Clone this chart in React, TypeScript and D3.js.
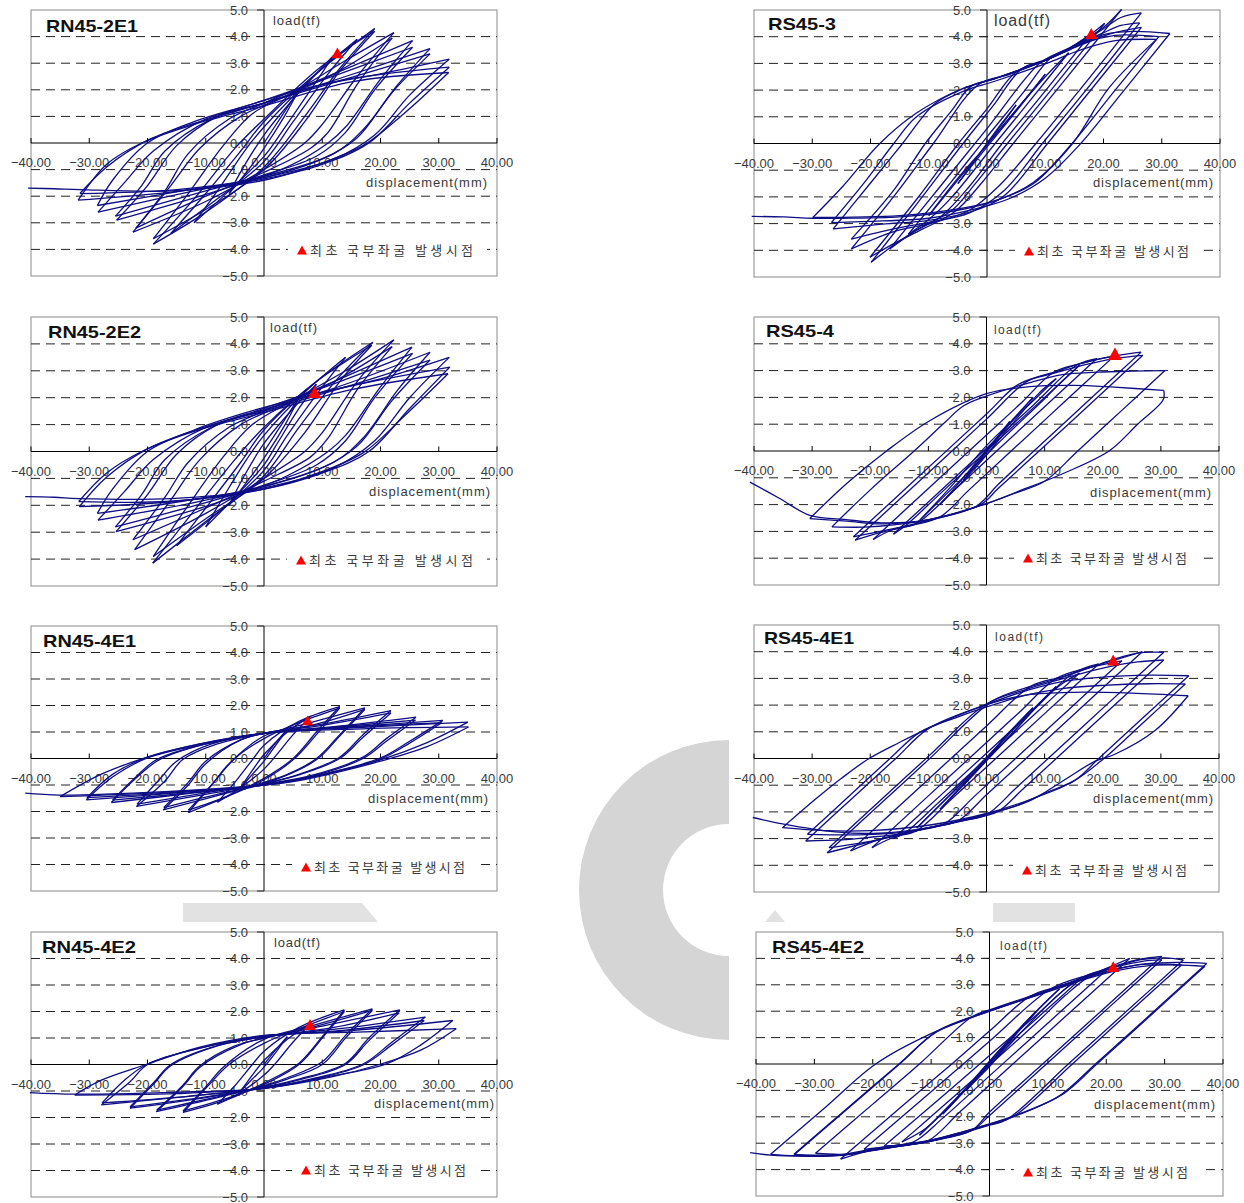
import React from 'react';
import * as d3 from 'd3';

// ---------------- data: displacement (mm), load (tf) ----------------
const specimenNames = ['RN45-2E1', 'RS45-3', 'RN45-2E2', 'RS45-4', 'RN45-4E1', 'RS45-4E1', 'RN45-4E2', 'RS45-4E2'];

const rn45_2e1 = [
  0,0, 3,1.0, 6,2.0,
  3.5,1.0, 0,-0.2, -3,-1.1, -6,-1.9,
  -3.5,-0.9, 0,0.3, 6,1.9, 12,3.3,
  8,2.0, 3,0.4, 0,-0.5, -6,-1.8, -12,-3.0,
  -8,-1.8, -3,-0.2, 0,0.6, 8,2.4, 16,3.9,
  11,2.6, 5,0.8, 0,-0.7, -8,-2.1, -16,-3.4,
  -10,-1.9, -4,-0.3, 0,0.8, 10,2.8, 19,4.3,
  13,2.8, 7,1.0, 0,-0.9, -10,-2.6, -19,-3.8,
  -12,-2.1, -5,-0.2, 0,0.9, 10,2.9, 19,4.2,
  13,2.7, 7,0.8, 0,-1.0, -10,-2.5, -19,-3.6,
  -13,-1.9, -7,-0.1, -2,1.1, 5,1.9, 14,3.1, 22.3,4.15,
  16,2.5, 10,0.7, 7,0, 0,-1.0, -10,-2.2, -22.5,-3.35,
  -16,-1.6, -11,-0.2, -4,1.0, 3,1.7, 12,2.6, 22,3.95,
  16,2.2, 11,0.4, 8,-0.2, 0,-1.1, -10,-2.0, -22,-3.2,
  -17,-1.8, -13,-0.4, -6,0.9, 0,1.5, 12,2.6, 25.5,3.85,
  20,2.4, 14,0.6, 11,0, 4,-0.9, -8,-1.8, -25.3,-2.9,
  -20,-1.6, -15,-0.1, -8,1.0, 0,1.6, 13,2.6, 25.5,3.6,
  19,2.0, 14,0.4, 9,-0.5, 0,-1.2, -10,-1.8, -25.5,-2.75,
  -21,-1.6, -17,-0.3, -9,0.9, 0,1.5, 14,2.5, 28.5,3.55,
  23,2.2, 17,0.5, 12,-0.4, 0,-1.25, -12,-1.8, -28.5,-2.6,
  -24,-1.5, -19,-0.3, -10,0.9, 0,1.5, 14,2.4, 28.5,3.35,
  22,1.9, 16,0.2, 10,-0.6, 0,-1.3, -14,-1.8, -28.6,-2.35,
  -26,-1.4, -20,0, -12,0.8, -3,1.4, 8,2.1, 20,2.6, 31.8,3.15,
  25,1.8, 19,0.3, 12,-0.6, 0,-1.3, -15,-1.75, -31.6,-1.9,
  -27,-0.9, -20,0.1, -11,0.8, 0,1.5, 12,2.3, 31.8,2.85,
  25,1.5, 18,0, 10,-0.8, 0,-1.35, -16,-1.85, -31.9,-2.15,
  -27,-0.8, -21,0, -12,0.7, 0,1.4, 15,2.3, 31.7,2.65,
  24,1.1, 17,-0.1, 8,-0.9, 0,-1.4, -16,-1.8, -31.6,-1.75,
  -36,-1.72, -40.5,-1.7,
];

const rs45_3 = [
  0,0, 2.5,0.75, 5,1.45,
  2.5,0.7, 0,0, -2.5,-0.75, -5,-1.5,
  -1,-0.4, 5,1.2, 10,2.6,
  5,1.25, 0,-0.05, -5,-1.3, -10,-2.7,
  -4,-1.1, 4,1.0, 10,2.5, 14,3.4,
  7,1.5, 1.4,0, -6,-2.0, -10,-2.85, -13.5,-3.4,
  -6,-1.4, 0,0.25, 6,1.85, 11,3.22, 14.5,3.62, 17.9,4.12,
  9,1.7, 2.6,0, -3,-1.6, -8,-2.75, -12.5,-3.3, -16.7,-3.95,
  -8,-1.6, 0,0.56, 9.3,3.05, 14,3.55, 17,3.95, 20.2,4.5,
  11,2.0, 3.5,0, -2,-1.5, -6,-2.5, -11,-3.1, -16,-3.8, -19.9,-4.45,
  -12,-2.25, -4.1,0, 1,1.4, 6,2.8, 10.2,3.15, 15.9,3.78, 20,4.35, 23.1,5.02,
  14,2.55, 4.5,0, -1,-1.5, -5.5,-2.55, -11,-3.2, -16,-3.75, -20.1,-4.26,
  -12,-2.07, -4.9,0, 0,1.3, 5,2.68, 10.2,3.13, 15.9,3.75, 20,4.3, 23,4.72, 26.5,4.89,
  17,2.3, 8.4,0, 2,-1.6, -3,-2.5, -9,-2.95, -16,-3.3, -23.3,-3.95,
  -16,-1.98, -9.2,0, -1.5,2.2, 4,2.6, 10.2,3.13, 15.9,3.72, 20,4.15, 23,4.42, 26.2,4.52,
  17,2.0, 9.5,0, 3,-1.75, -3,-2.6, -10,-2.95, -16,-3.2, -23.3,-3.58,
  -16,-1.75, -10.6,0, -6,1.25, -2.7,2.15, 1.6,2.45, 10.2,3.13, 16,3.68, 21,4.1, 26.5,4.35,
  18,2.05, 10.4,0, 3,-1.95, -2,-2.5, -10,-2.88, -18,-3.02, -26.4,-3.2,
  -20,-1.48, -14.5,0, -9,1.48, -4.1,2.05, 1.6,2.45, 10.2,3.13, 16,3.7, 20,4.08, 25,4.2, 31.4,4.12,
  23,1.85, 16.1,0, 10,-1.3, 4,-2.05, -2,-2.45, -10,-2.8, -18,-2.9, -26.7,-2.96,
  -21,-1.45, -16,0, -12.1,1.0, -4.1,1.95, 1.6,2.35, 10.2,3.0, 16,3.5, 22,3.85, 29.1,3.9,
  21,2.1, 14.7,0, 8,-1.45, 2,-2.1, -5,-2.45, -15,-2.7, -29.9,-2.77,
  -24.7,-1.59, -18.4,0, -12.1,1.14, -4.1,2.07, 1.6,2.45, 10.2,3.13, 15.9,3.7, 22,4.05, 29.5,4.0,
  22,2.0, 14.6,0, 8,-1.5, 2,-2.1, -5,-2.5, -15,-2.75, -25,-2.8, -29.9,-2.8, -35,-2.75, -40.4,-2.73,
];

const rn45_2e2 = [
  0,0, 3,1.0, 6,2.0,
  3.5,0.95, 0,-0.25, -3,-1.15, -6,-2.0,
  -3.5,-0.95, 0,0.3, 5,1.6, 9,2.5,
  6,1.6, 2,0.2, 0,-0.5, -5,-1.7, -10,-2.8,
  -7,-1.7, -3,-0.3, 0,0.6, 7,2.2, 14,3.5,
  10,2.4, 4,0.6, 0,-0.7, -8,-2.3, -15,-3.5,
  -10,-2.1, -4,-0.4, 0,0.8, 9,2.6, 18.7,4.06,
  13,2.8, 6,0.9, 0,-0.9, -10,-2.6, -19.1,-4.15,
  -12,-2.2, -5,-0.3, 0,0.9, 9,2.6, 18.5,3.95,
  13,2.6, 7,0.7, 0,-1.0, -10,-2.5, -19,-3.9,
  -13,-2.0, -7,-0.2, -2,1.0, 5,1.9, 14,3.0, 22.3,4.15,
  16,2.6, 10,0.7, 7,0, 0,-1.0, -10,-2.3, -22.2,-3.65,
  -16,-1.8, -11,-0.3, -4,1.0, 3,1.7, 12,2.6, 22,3.9,
  16,2.3, 11,0.5, 8,-0.2, 0,-1.1, -10,-2.1, -22.5,-3.28,
  -17,-1.7, -13,-0.4, -6,0.9, 0,1.5, 12,2.6, 25.4,3.88,
  20,2.4, 14,0.6, 11,0, 4,-0.9, -8,-1.9, -25.4,-2.98,
  -20,-1.6, -15,-0.1, -8,1.0, 0,1.6, 13,2.6, 25.5,3.65,
  19,2.0, 14,0.4, 9,-0.5, 0,-1.25, -10,-1.9, -25.5,-2.8,
  -21,-1.6, -17,-0.3, -9,0.9, 0,1.55, 14,2.5, 28.5,3.69,
  23,2.3, 17,0.5, 12,-0.4, 0,-1.3, -12,-1.9, -28.5,-2.55,
  -24,-1.5, -19,-0.3, -10,0.9, 0,1.5, 14,2.4, 28.5,3.4,
  22,1.9, 16,0.2, 10,-0.6, 0,-1.3, -14,-1.85, -28.6,-2.3,
  -26,-1.4, -20,0, -12,0.8, -3,1.45, 8,2.1, 20,2.7, 31.8,3.5,
  25,2.0, 19,0.4, 12,-0.6, 0,-1.35, -15,-1.85, -31.7,-2.05,
  -27,-0.95, -20,0.1, -11,0.85, 0,1.55, 12,2.3, 31.9,3.14,
  25,1.6, 18,0, 10,-0.8, 0,-1.4, -16,-1.85, -31.8,-1.86,
  -27,-0.8, -21,0, -12,0.75, 0,1.45, 15,2.3, 31.6,2.89,
  24,1.3, 17,-0.05, 8,-0.9, 0,-1.4, -16,-1.75, -31.8,-1.75,
  -36,-1.7, -41,-1.68,
];

const rs45_4 = [
  0,0, 2,0.55, 4,1.1,
  2,0.5, 0,0, -2,-0.55, -4,-1.1,
  0,-0.05, 4,1.0, 8,2.0,
  4,1.05, 0,0.05, -4,-1.0, -8,-2.0,
  -2,-0.65, 4,0.9, 9,2.15, 12,2.7,
  6,1.45, 0,0.2, -6,-1.3, -12,-2.7,
  -5,-1.2, 3,0.5, 10,1.95, 13,2.6, 16,3.2,
  8,1.6, 0,0, -8,-1.6, -14,-2.8, -16,-3.1,
  -8,-1.5, 0,0.1, 8,1.7, 15.5,3.2, 19,3.45,
  10,1.65, 1.75,0, -6,-1.55, -12,-2.7, -16,-2.92, -19.5,-3.3,
  -10,-1.4, 0,0.6, 6,1.8, 11.5,2.93, 16,3.25, 22,3.55,
  13,1.75, 4.25,0, -3,-1.45, -8,-2.46, -13,-2.78, -18.3,-3.05, -22.6,-3.33,
  -12,-1.21, 0,1.19, 7,2.6, 12,2.96, 16,3.25, 20.5,3.48, 24.6,3.63, 26.6,3.69,
  17,1.77, 8.15,0, 2,-1.25, -1.7,-2.05, -9.7,-2.58, -16,-2.9, -22.9,-3.2,
  -12,-1.02, 0,1.38, 5.6,2.5, 12,2.92, 17,3.22, 22,3.45, 26.9,3.57,
  18,1.78, 9.05,0, 2,-1.4, -1,-2.0, -9.7,-2.55, -16,-2.76, -21,-2.84, -26.6,-2.83,
  -20,-1.45, -12.45,0, -7,1.1, -4,1.68, 0,2.05, 7,2.52, 13,2.85, 19,2.94, 25,2.98, 30.7,3.0,
  23,1.46, 15.7,0, 10,-1.13, 5.2,-1.55, 0,-1.96, -9.7,-2.55, -18,-2.72, -24,-2.62, -30.4,-2.52,
  -24.1,-1.22, -17.2,0, -9.7,1.14, 0,2.14, 7.4,2.4, 15,2.45, 22,2.38, 30.5,2.26,
  30.4,1.91, 26,1.0, 21.2,0.02, 13.2,-0.84, 5.2,-1.53, 0,-1.96, -9.7,-2.56, -18,-2.68, -24.5,-2.55, -30.4,-2.4,
  -35.5,-1.78, -40.7,-1.16,
];

const rn45_4e1 = [
  0,0, 2,0.6, 4,1.1,
  2,0.5, 0,-0.1, -2,-0.6, -4,-1.1,
  -2,-0.45, 0,0.15, 4,1.0, 8,1.6,
  5,0.9, 2,0.1, 0,-0.4, -4,-1.1, -8,-1.65,
  -5,-0.9, -2,-0.05, 0,0.5, 6,1.4, 13,1.96,
  9,1.0, 5,0.0, 0,-0.75, -6,-1.4, -13,-2.04,
  -9,-1.0, -5,0, 0,0.75, 6,1.35, 13,1.9,
  9,0.9, 5,-0.05, 0,-0.8, -6,-1.4, -13,-1.95,
  -9,-1.0, -6,-0.2, 0,0.85, 8,1.35, 17.3,1.91,
  13,0.9, 9,0, 4,-0.6, 0,-0.9, -8,-1.4, -17.3,-1.94,
  -13,-1.0, -10,-0.2, -4,0.7, 0,0.95, 9,1.3, 17.3,1.85,
  13,0.85, 9,-0.05, 0,-0.95, -8,-1.35, -17.2,-1.85,
  -13,-0.9, -10,-0.1, -4,0.7, 0,0.95, 10,1.3, 21.8,1.81,
  17,0.9, 13,0.05, 6,-0.6, 0,-0.95, -10,-1.35, -21.9,-1.81,
  -17,-0.85, -14,-0.05, -8,0.55, 0,0.95, 10,1.25, 21.8,1.72,
  17,0.8, 13,0, 6,-0.62, 0,-0.95, -10,-1.3, -21.8,-1.72,
  -18,-0.8, -15,-0.1, -9,0.55, 0,0.95, 12,1.2, 26.1,1.56,
  21,0.75, 17,0.05, 8,-0.65, 0,-0.97, -12,-1.3, -26.2,-1.66,
  -22,-0.75, -18,-0.05, -10,0.55, 0,0.95, 12,1.18, 26,1.45,
  21,0.65, 17,0, 8,-0.68, 0,-0.98, -12,-1.28, -26,-1.57,
  -22,-0.7, -18.5,-0.05, -10,0.55, 0,0.95, 15,1.2, 30.7,1.44,
  25,0.65, 20,0.02, 10,-0.6, 0,-1.0, -15,-1.3, -30.5,-1.56,
  -26,-0.7, -20,0.02, -10,0.55, 0,0.95, 15,1.18, 30.5,1.35,
  25,0.58, 20,-0.02, 10,-0.62, 0,-1.0, -15,-1.28, -30.4,-1.48,
  -26,-0.6, -20,0.05, -11,0.55, 0,0.95, 17,1.18, 35,1.37,
  28,0.6, 20,-0.05, 12,-0.5, 6,-0.81, 0,-1.0, -17,-1.28, -35,-1.44,
  -28,-0.6, -20,0.05, -11,0.55, 0,0.95, 17,1.12, 35.1,1.19,
  28,0.45, 20,-0.1, 12,-0.55, 6,-0.83, 0,-1.0, -17,-1.25, -35,-1.38, -41,-1.31,
];

const rs45_4e1 = [
  0,0, 2,0.5, 4,1.0,
  2,0.5, 0,0, -2,-0.5, -4,-1.0,
  0,-0.05, 4,0.95, 8,1.9,
  4,1.0, 0,-0.05, -4,-0.95, -8,-1.9,
  -2,-0.55, 4,0.85, 9,2.05, 12,2.7,
  6,1.4, 0,0.05, -6,-1.3, -12,-2.6,
  -5,-1.1, 3,0.6, 10,2.25, 13,2.8, 16,3.2,
  8,1.6, 0,0, -8,-1.6, -14,-2.78, -16,-3.0,
  -8,-1.4, 0,0.2, 8,1.8, 15,3.2, 19.3,3.54,
  10,1.68, 1.6,0, -6,-1.52, -12,-2.7, -16,-2.95, -19.7,-3.34,
  -10,-1.4, 0,0.6, 6,1.8, 12,3.0, 18,3.42, 23.3,3.66,
  14,1.8, 5,0, -2,-1.4, -7.3,-2.45, -12,-2.7, -18,-3.0, -23.4,-3.46,
  -12,-1.18, 0,1.22, 7.6,2.7, 13,3.06, 18,3.42, 22,3.68, 26.8,4.0,
  16.8,2.0, 6.8,0, 0,-1.36, -5,-2.35, -10,-2.6, -15,-2.86, -20,-3.12, -27.4,-3.53,
  -18,-1.65, -10,-0.05, 1,2.15, 7,2.66, 13,3.04, 18,3.42, 22,3.72, 26,3.95, 30.5,3.98,
  20.5,1.98, 10.6,0, 5,-1.12, 0,-2.1, -5,-2.36, -10,-2.6, -15,-2.86, -20,-3.1, -27.1,-3.34,
  -18,-1.52, -10,0.08, 0,2.05, 7,2.6, 13,2.98, 18,3.28, 22,3.48, 26,3.62, 30.5,3.69,
  21,1.8, 12,0, 6,-1.2, 2,-1.98, -3,-2.28, -10,-2.6, -15,-2.82, -20,-2.95, -25,-3.05, -31.1,-3.09,
  -22,-1.27, -15.6,0, -10,1.12, 0,2.02, 7,2.55, 13,2.88, 20,3.05, 28,3.12, 34.8,3.1,
  25,1.14, 19.3,0, 15.3,-0.8, 10,-1.3, 5,-1.78, 0,-2.08, -8,-2.5, -15,-2.78, -22,-2.86, -30.8,-2.84,
  -22,-1.08, -16.6,0, -11.5,0.98, -5,1.55, 0,1.93, 7,2.38, 13,2.62, 20,2.74, 28,2.8, 34.2,2.79,
  27,1.35, 20.2,0, 15,-0.85, 8,-1.5, 0,-2.06, -10,-2.5, -20,-2.7, -28,-2.7, -35.1,-2.59,
  -29.4,-1.52, -25,-0.75, -20.2,0, -15,0.6, -9.9,1.14, 0,2.02, 7,2.38, 15,2.48, 25,2.45, 34.7,2.35,
  29,1.05, 22,0.15, 18.7,-0.1, 13,-0.86, 7.3,-1.6, 0,-2.09, -9.9,-2.59, -18.5,-2.8, -26,-2.75, -35.1,-2.45, -40.2,-2.21,
];

const rn45_4e2 = [
  0,0, 2,0.55, 4,1.05,
  2,0.45, 0,-0.1, -2,-0.55, -4,-1.0,
  -2,-0.4, 0,0.15, 4,0.95, 8,1.55,
  5,0.85, 2,0.05, 0,-0.4, -4,-1.05, -8,-1.5,
  -5,-0.8, -2,0, 0,0.5, 6,1.4, 13.8,2.06,
  10,1.05, 6,0.05, 0,-0.7, -6,-1.3, -13.9,-1.81,
  -10,-0.9, -6,0, 0,0.8, 6,1.35, 13.8,2.0,
  10,1.0, 6,0, 0,-0.75, -6,-1.25, -13.9,-1.75,
  -10,-0.85, -7,-0.1, 0,0.95, 8,1.45, 18.6,2.1,
  14,1.1, 10,0.1, 4,-0.5, 0,-0.8, -8,-1.25, -18.5,-1.78,
  -14,-0.85, -11,-0.1, -4,0.75, 0,1.0, 9,1.45, 18.6,2.04,
  14,1.0, 10,0, 4,-0.55, 0,-0.82, -8,-1.22, -18.4,-1.72,
  -14,-0.8, -11,-0.05, -5,0.7, 0,1.0, 10,1.45, 23.3,2.06,
  18,1.0, 14,0.05, 6,-0.55, 0,-0.85, -10,-1.25, -23,-1.65,
  -19,-0.75, -16,-0.05, -8,0.7, 0,1.05, 12,1.4, 23.2,1.95,
  18,0.9, 14,0, 6,-0.58, 0,-0.87, -10,-1.22, -23,-1.6,
  -19,-0.7, -16,0, -9,0.65, 0,1.05, 13,1.35, 27.7,1.79,
  22,0.85, 17,0.02, 8,-0.55, 0,-0.88, -13,-1.2, -27.9,-1.52,
  -23,-0.65, -20,0, -11,0.62, 0,1.05, 14,1.3, 27.5,1.66,
  22,0.75, 17,-0.02, 8,-0.58, 0,-0.9, -13,-1.2, -27.8,-1.45,
  -24,-0.6, -20,0.02, -11,0.62, 0,1.08, 15,1.28, 32.4,1.66,
  27,0.75, 21,0.02, 10,-0.5, 0,-0.9, -15,-1.1, -32.5,-1.15,
  -28,-0.6, -20.2,0, -11,0.66, 0,1.1, 16,1.22, 33,1.35,
  27,0.55, 19.8,0, 11.8,-0.46, 0,-0.9, -16,-1.05, -32.5,-1.12, -40.2,-1.06,
];

const rs45_4e2 = [
  0,0, 2,0.5, 4,1.0,
  2,0.45, 0,-0.1, -2,-0.55, -4,-1.0,
  -1,-0.25, 3,0.75, 6,1.5, 8,2.0,
  5,1.3, 0,0.1, -4,-0.95, -8,-1.9,
  -2,-0.45, 4,1.0, 9,2.2, 12,2.85,
  8,2.0, 2,0.6, -4,-0.9, -9,-2.05, -12,-2.7,
  -6,-1.4, 2,0.4, 10,2.25, 13,2.85, 16,3.3,
  10,2.1, 2,0.5, -6,-1.4, -11,-2.45, -15,-2.95,
  -8,-1.6, 0,-0.05, 8,1.55, 13,2.6, 17,3.3, 20,3.55,
  13,2.15, 6,0.75, 0,-0.45, -8,-2.05, -13,-2.95, -18,-3.1,
  -9,-1.4, 0,0.32, 8,1.85, 15,3.18, 19.5,3.58, 24,4.0,
  14,2.0, 4,0, -5,-1.8, -10.5,-2.9, -16,-3.08, -21.5,-3.23,
  -10,-1.05, 0,0.86, 10.5,2.85, 17,3.38, 22,3.75, 26,3.98, 29.5,4.08,
  20,2.18, 9.1,0, 0,-1.82, -3,-2.5, -10,-2.9, -15,-3.08, -20,-3.25, -25.5,-3.6,
  -15,-1.6, -7,-0.1, 0,1.25, 7,2.57, 12,2.95, 17,3.33, 22,3.7, 26,3.88, 29.5,3.95,
  20,2.05, 9.75,0, 0,-1.95, -3,-2.52, -10,-2.92, -15,-3.1, -20,-3.27, -25,-3.42, -29.8,-3.38,
  -20,-1.52, -12,0, -3,1.79, 0,2.05, 6,2.5, 12,2.95, 17,3.35, 22,3.72, 26,3.95, 30,4.02, 33.2,3.94,
  23,1.9, 13.5,0, 3,-2.1, 0,-2.32, -5,-2.64, -10,-2.92, -15,-3.1, -20,-3.26, -25,-3.44, -33.5,-3.42,
  -25,-1.8, -15.5,0, -9,1.24, 0,2.02, 6,2.47, 12,2.92, 17,3.3, 22,3.62, 27,3.78, 32.9,3.75,
  23,1.77, 14.2,0, 4,-2.0, 0,-2.3, -5,-2.63, -10,-2.92, -15,-3.1, -20,-3.28, -25,-3.45, -30,-3.48, -33.5,-3.45,
  -25,-1.83, -15.5,-0.02, -9,1.22, 0,2.0, 6,2.45, 12,2.9, 17,3.28, 22,3.6, 27,3.8, 32,3.85, 37.2,3.81,
  27.7,1.9, 18.15,0, 12,-1.2, 5,-1.92, 0,-2.28, -5,-2.6, -10,-2.88, -15,-3.07, -20,-3.24, -25,-3.45, -30,-3.5, -37.5,-3.42,
  -28,-1.62, -19.5,0, -10,1.15, 0,2.0, 6,2.45, 12,2.88, 17,3.25, 22,3.55, 27,3.72, 32,3.75, 36.9,3.7,
  27.6,1.84, 18.4,0, 12.5,-1.15, 5,-1.9, 0,-2.27, -5,-2.6, -10,-2.88, -15,-3.05, -20,-3.22, -25,-3.42, -30,-3.48, -37.5,-3.45, -41,-3.36,
];

const hysteresisPaths = [rn45_2e1, rs45_3, rn45_2e2, rs45_4, rn45_4e1, rs45_4e1, rn45_4e2, rs45_4e2];

// first local buckling point of each specimen
const firstBuckling: [number, number][] = [
  [12.6, 3.39], [17.9, 4.12], [8.7, 2.21], [22.1, 3.63],
  [7.5, 1.44], [21.8, 3.69], [7.9, 1.51], [21.2, 3.69],
];

const xTickValues = [-40, -30, -20, -10, 0, 10, 20, 30, 40];
const yTickValues = [5, 4, 3, 2, 1, 0, -1, -2, -3, -4, -5];
const gridValues = [4, 3, 2, 1, -1, -2, -3, -4];
const legendLabel = '최초 국부좌굴 발생시점';
const xAxisTitle = 'displacement(mm)';
const yAxisTitle = 'load(tf)';

// ---------------- layout ----------------
type PanelLayout = {
  x: number; y: number; w: number; h: number;
  title: [number, number, number];                 // x, baseline, width
  yTitle: [number, number, number, number] | null; // x, baseline, width, font size
  xTitle: [number, number, number];                // x, baseline, width
  legend: [number, number, number];                // marker cx, cy, text end
  marker: number;
};

const layouts: PanelLayout[] = [
  { x: 31, y: 10, w: 466, h: 266, title: [46, 32, 92], yTitle: [273, 25, 47, 13], xTitle: [366, 187, 121], legend: [302, 250, 473], marker: 12 },
  { x: 754, y: 10, w: 466, h: 267, title: [768, 30, 68], yTitle: [994, 26, 56, 16], xTitle: [1093, 187, 120], legend: [1029, 251, 1189], marker: 12 },
  { x: 31, y: 317, w: 466, h: 269, title: [48, 338, 93], yTitle: [270, 332, 47, 13], xTitle: [369, 496, 121], legend: [301, 560, 473], marker: 13 },
  { x: 754, y: 317, w: 465, h: 268, title: [766, 337, 68], yTitle: [994, 334, 47, 12], xTitle: [1090, 497, 121], legend: [1028, 558, 1187], marker: 14 },
  { x: 31, y: 626, w: 466, h: 265, title: [43, 647, 93], yTitle: null, xTitle: [368, 803, 120], legend: [306, 867, 465], marker: 11 },
  { x: 754, y: 625, w: 465, h: 267, title: [764, 644, 90], yTitle: [995, 641, 48, 12], xTitle: [1093, 803, 120], legend: [1027, 870, 1187], marker: 12 },
  { x: 31, y: 932, w: 466, h: 265, title: [42, 953, 94], yTitle: [274, 947, 46, 13], xTitle: [374, 1108, 120], legend: [306, 1170, 466], marker: 12 },
  { x: 756, y: 932, w: 467, h: 264, title: [772, 953, 92], yTitle: [1000, 950, 47, 12], xTitle: [1094, 1109, 121], legend: [1028, 1172, 1188], marker: 12 },
];

const LATIN = '"Liberation Sans", Arial, sans-serif';
const HANGUL = '"Noto Sans CJK KR", "Noto Sans", sans-serif';
const CURVE = '#0e0e85';
const TEXT = '#3a3a3a';

type Pt = [number, number];

function toPoints(flat: number[]): Pt[] {
  const pts: Pt[] = [];
  for (let i = 0; i + 1 < flat.length; i += 2) pts.push([flat[i], flat[i + 1]]);
  return pts;
}

// split a load history into branches that run in one displacement direction
function branches(pts: Pt[]): Pt[][] {
  const out: Pt[][] = [];
  let cur: Pt[] = [pts[0]];
  let dir = 0;
  for (let i = 1; i < pts.length; i++) {
    const d = Math.sign(pts[i][0] - pts[i - 1][0]);
    if (dir !== 0 && d !== 0 && d !== dir) {
      out.push(cur);
      cur = [pts[i - 1]];
    }
    if (d !== 0) dir = d;
    cur.push(pts[i]);
  }
  out.push(cur);
  return out;
}

const fmtX = (v: number) => (v < 0 ? '\u2212' : '') + Math.abs(v).toFixed(2);
const fmtY = (v: number) => (v < 0 ? '\u2212' : '') + Math.abs(v).toFixed(1);

function triangle(cx: number, cy: number, s: number) {
  const h = s * 0.9;
  return `M${cx - s / 2},${cy + h / 2}L${cx},${cy - h / 2}L${cx + s / 2},${cy + h / 2}Z`;
}

function Panel({ idx }: { idx: number }) {
  const L = layouts[idx];
  const xs = d3.scaleLinear().domain([-40, 40]).range([L.x, L.x + L.w]);
  const ys = d3.scaleLinear().domain([-5, 5]).range([L.y + L.h, L.y]);
  const line = d3.line<Pt>().x(d => xs(d[0])).y(d => ys(d[1])).curve(d3.curveCatmullRom.alpha(0.5));
  const segs = branches(toPoints(hysteresisPaths[idx]));
  const ax = xs(0);
  const ay = ys(0);
  const [bx, by] = firstBuckling[idx];
  const [lx, ly, lend] = L.legend;

  return (
    <g>
      <rect x={L.x} y={L.y} width={L.w} height={L.h} fill="#fff" stroke="#8a8a8a" strokeWidth={1} />
      {gridValues.map(v => (
        <line key={'g' + v} x1={L.x} x2={L.x + L.w} y1={ys(v)} y2={ys(v)} stroke="#222" strokeWidth={1} strokeDasharray="9,6" />
      ))}
      {/* legend box sits over the -4.0 gridline */}
      <rect x={lx - 14} y={ly - 8} width={lend - lx + 28} height={16} fill="#fff" />
      {/* axes */}
      <line x1={L.x} x2={L.x + L.w} y1={ay} y2={ay} stroke="#000" strokeWidth={1} />
      <line x1={ax} x2={ax} y1={L.y} y2={L.y + L.h} stroke="#000" strokeWidth={1} />
      {xTickValues.map(v => (
        <line key={'xt' + v} x1={xs(v)} x2={xs(v)} y1={ay - 5} y2={ay} stroke="#000" strokeWidth={1} />
      ))}
      {yTickValues.map(v => (
        <line key={'yt' + v} x1={ax - 7} x2={ax} y1={ys(v)} y2={ys(v)} stroke="#222" strokeWidth={1} />
      ))}
      {/* tick labels */}
      {xTickValues.map(v => (
        <text key={'xl' + v} x={xs(v)} y={ay + 24} textAnchor="middle" fontFamily={LATIN} fontSize={13} fill={TEXT}>{fmtX(v)}</text>
      ))}
      {yTickValues.map(v => (
        <text key={'yl' + v} x={ax - 16} y={ys(v) + 4.5} textAnchor="end" fontFamily={LATIN} fontSize={13} fill={TEXT}>{fmtY(v)}</text>
      ))}
      {/* hysteresis curve */}
      <g fill="none" stroke={CURVE} strokeWidth={1.3} strokeLinejoin="round">
        {segs.map((s, i) => <path key={i} d={line(s) || ''} />)}
      </g>
      {/* first local buckling */}
      <path d={triangle(xs(bx), ys(by), L.marker)} fill="#ff0000" />
      {/* titles */}
      <text x={L.title[0]} y={L.title[1]} fontFamily={LATIN} fontWeight="bold" fontSize={17} fill="#111" textLength={L.title[2]} lengthAdjust="spacingAndGlyphs">{specimenNames[idx]}</text>
      {L.yTitle && (
        <text x={L.yTitle[0]} y={L.yTitle[1]} fontFamily={LATIN} fontSize={L.yTitle[3]} fill={TEXT} textLength={L.yTitle[2]} lengthAdjust="spacing">{yAxisTitle}</text>
      )}
      <text x={L.xTitle[0]} y={L.xTitle[1]} fontFamily={LATIN} fontSize={13} fill={TEXT} textLength={L.xTitle[2]} lengthAdjust="spacing">{xAxisTitle}</text>
      {/* legend */}
      <path d={triangle(lx, ly, 10)} fill="#ff0000" />
      <text x={lx + 8} y={ly + 5} fontFamily={HANGUL} fontSize={13} fill={TEXT} textLength={lend - lx - 8} lengthAdjust="spacing">{legendLabel}</text>
    </g>
  );
}

function Watermark() {
  const ring = d3.arc()({ innerRadius: 66, outerRadius: 150, startAngle: Math.PI, endAngle: 2 * Math.PI }) || '';
  return (
    <g>
      <path d={ring} transform="translate(729,890)" fill="#d5d5d5" />
      <path d="M183,903L362,903L378,922L183,922Z" fill="#e2e2e2" />
      <rect x={993} y={903} width={82} height={19} fill="#e2e2e2" />
      <path d="M765,922L775,910L785,922Z" fill="#e2e2e2" />
    </g>
  );
}

export default function App() {
  return (
    <svg width={1244} height={1203} viewBox="0 0 1244 1203" style={{ position: 'absolute', left: 0, top: 0, background: '#fff' }}>
      <rect x={0} y={0} width={1244} height={1203} fill="#fff" />
      <Watermark />
      {layouts.map((_, i) => <Panel key={i} idx={i} />)}
    </svg>
  );
}
